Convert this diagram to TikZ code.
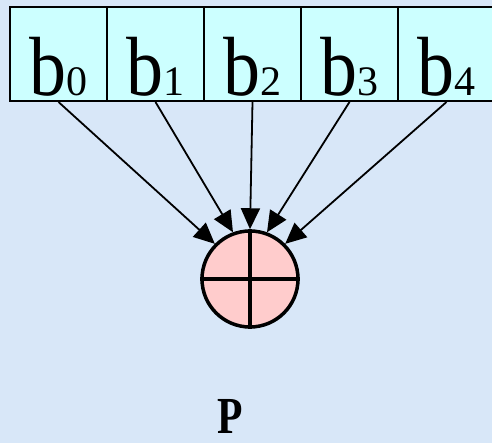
\documentclass[tikz,border=0pt]{standalone}
\usepackage{fontspec}
\setmainfont{Liberation Serif}
\usetikzlibrary{arrows.meta}
\definecolor{bgblue}{RGB}{216,231,248}
\definecolor{boxcyan}{RGB}{204,255,255}
\definecolor{circpink}{RGB}{255,204,204}
\newcommand{\bitlabel}[1]{{\fontsize{84}{84}\selectfont\scalebox{0.88}[1]{b}}{\fontsize{42}{42}\selectfont #1}}
\tikzset{
  bitbox/.style={draw=black, line width=2pt, fill=boxcyan, rectangle,
    minimum width=97pt, minimum height=94pt, inner sep=0pt,
    text height=89pt, text depth=5pt},
  feed/.style={line width=1.8pt, -{Triangle[length=21pt,width=19pt]}},
  xorcirc/.style={draw=black, line width=3.5pt, fill=circpink, circle,
    minimum size=96pt, inner sep=0pt},
}
\begin{document}
\begin{tikzpicture}[x=1pt,y=-1pt]
\fill[bgblue] (0,0) rectangle (492,443);
\useasboundingbox (0,0) rectangle (492,443);
\node[bitbox] (b0) at (58.5,54) {\bitlabel{0}};
\node[bitbox] (b1) at (155.5,54) {\bitlabel{1}};
\node[bitbox] (b2) at (252.5,54) {\bitlabel{2}};
\node[bitbox] (b3) at (349.5,54) {\bitlabel{3}};
\node[bitbox] (b4) at (446.5,54) {\bitlabel{4}};
\node[xorcirc] (c) at (250,279) {};
\draw[line width=3.5pt] (c.90) -- (c.270);
\draw[line width=3.5pt] (c.180) -- (c.0);
\draw[feed] (b0.south) -- (c.135);
\draw[feed] (b1.south) -- (c.110);
\draw[feed] (b2.south) -- (c.90);
\draw[feed] (b3.south) -- (c.70);
\draw[feed] (b4.south) -- (c.45);
\node[anchor=base, inner sep=0pt] (p) at (230,433) {\fontsize{52}{52}\selectfont\bfseries\scalebox{0.8}[1]{P}};
\end{tikzpicture}
\end{document}
